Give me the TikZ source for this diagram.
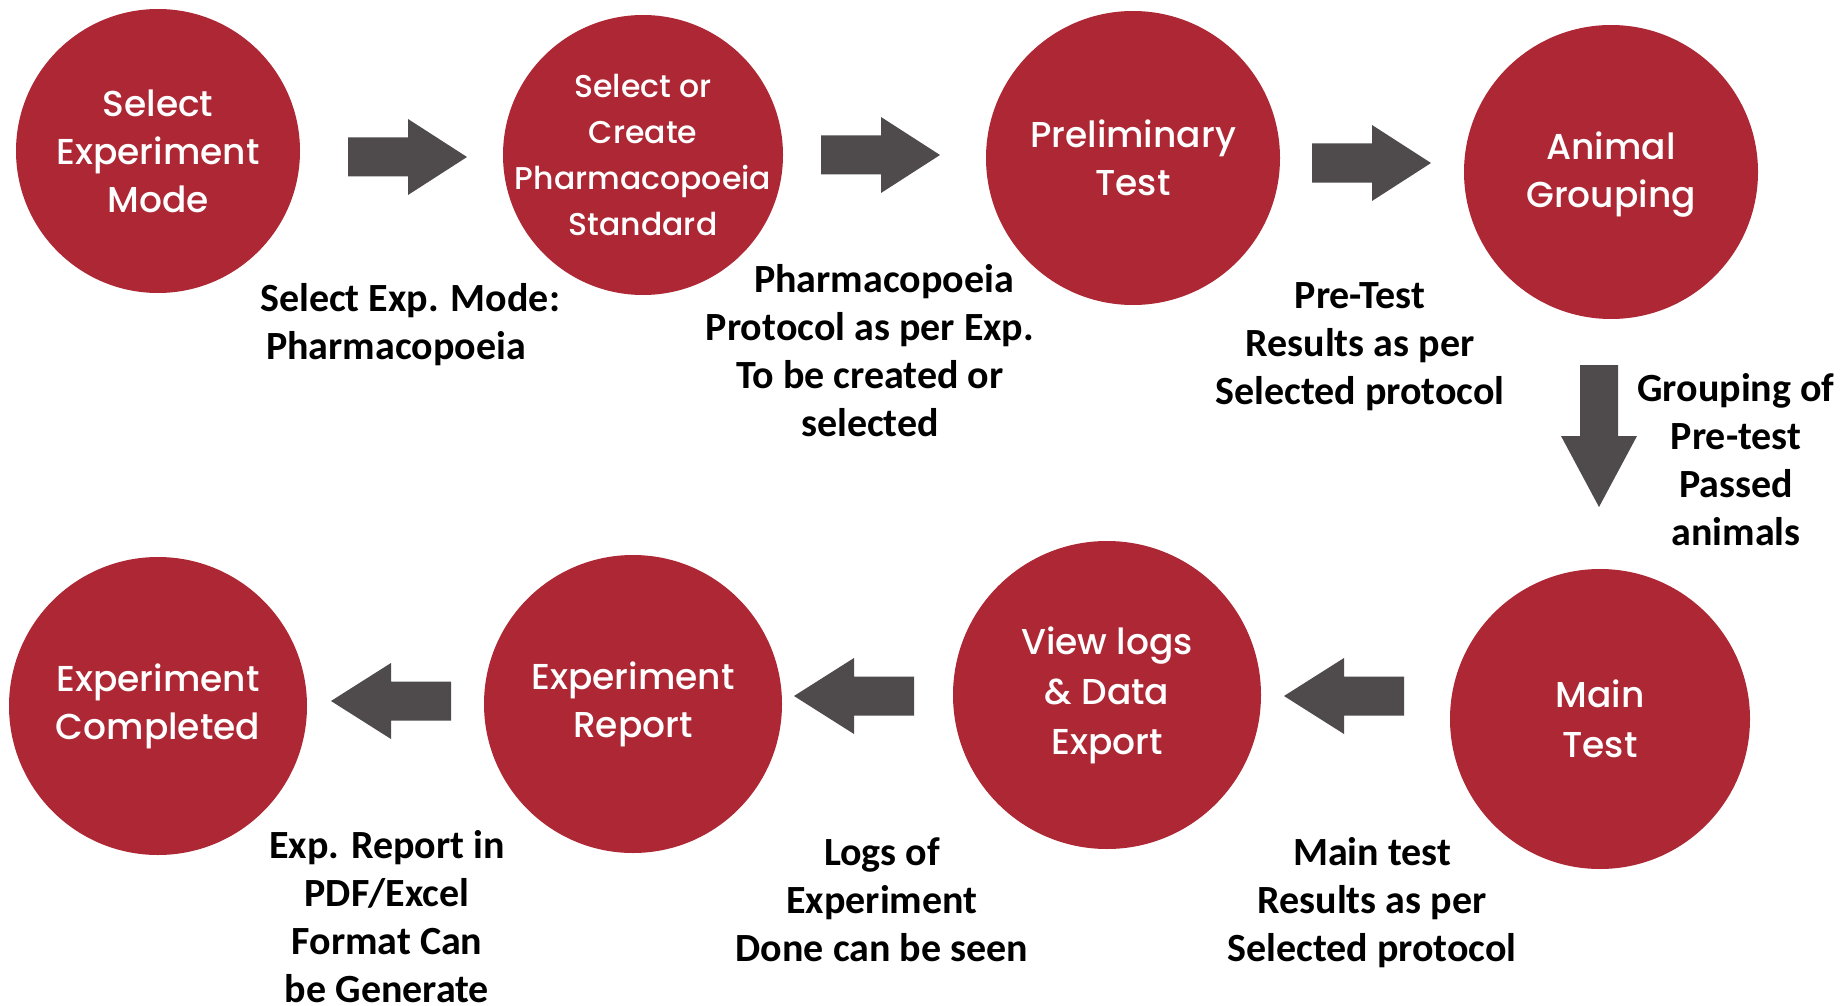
\documentclass[tikz,border=0pt]{standalone}
\usepackage{fontspec}
\setmainfont{Carlito}
\newfontfamily\circfont{Poppins}[UprightFont={* Medium}]
\definecolor{crimson}{RGB}{173,39,52}
\definecolor{arrowgray}{RGB}{79,75,76}
\tikzset{
  circ/.style={circle, fill=crimson, inner sep=0pt, minimum size=#1},
  ctext/.style={inner sep=0pt, text=white, align=center,
    font=\circfont\fontsize{36}{#1}\selectfont},
  ctext/.default=48,
  lbl/.style={inner sep=0pt, align=center, text=black,
    font=\bfseries\fontsize{40}{48}\selectfont},
  rightarrow/.pic={\fill[arrowgray] (-60,-19.5) -- (0,-19.5) -- (0,-38) -- (59,0) -- (0,38) -- (0,19.5) -- (-60,19.5) -- cycle;},
  leftarrow/.pic={\fill[arrowgray] (60,-19.5) -- (0,-19.5) -- (0,-38) -- (-60,0) -- (0,38) -- (0,19.5) -- (60,19.5) -- cycle;},
  downarrow/.pic={\fill[arrowgray] (-19,-71) -- (-19,0) -- (-38,0) -- (0,71) -- (38,0) -- (19,0) -- (19,-71) -- cycle;}
}
\begin{document}
\begin{tikzpicture}[x=1pt,y=-1pt]
\useasboundingbox[fill=white] (0,0) rectangle (1845,1006);
% circles
\node[circ=284] (c1) at (158,151) {};
\node[circ=280] (c2) at (643,155) {};
\node[circ=294] (c3) at (1133,158) {};
\node[circ=294] (c4) at (1611,172) {};
\node[circ=300] (c5) at (1600,719) {};
\node[circ=308] (c6) at (1107,695) {};
\node[circ=298] (c7) at (633,704) {};
\node[circ=298] (c8) at (158,706) {};
% circle texts
\node[ctext] (t1) at (c1) {Select\\Experiment\\Mode};
\node[ctext=46, font=\circfont\fontsize{31.5}{46}\selectfont] (t2) at (c2) {Select or\\Create\\Pharmacopoeia\\Standard};
\node[ctext] (t3) at (c3) {Preliminary\\Test};
\node[ctext] (t4) at ([yshift=-3pt]c4.center) {Animal\\Grouping};
\node[ctext=50] (t5) at (c5) {Main\\Test};
\node[ctext=50] (t6) at (c6) {View logs\\\& Data\\Export};
\node[ctext] (t7) at (c7) {Experiment\\Report};
\node[ctext] (t8) at (c8) {Experiment\\Completed};
% block arrows
\pic at (408,157) {rightarrow};
\pic at (881,155) {rightarrow};
\pic at (1372,163) {rightarrow};
\pic at (1599,436) {downarrow};
\pic at (1344,696) {leftarrow};
\pic at (854,696) {leftarrow};
\pic at (391,701) {leftarrow};
% labels
\node[lbl, align=left, anchor=north west] (l1) at (260,283) {Select Exp. Mode:\\\hspace*{6pt}Pharmacopoeia};
\node[lbl, anchor=north] (l2) at (870,264) {\hspace*{28pt}Pharmacopoeia\\Protocol as per Exp.\\To be created or\\selected};
\node[lbl, anchor=north] (l3) at (1360,282) {Pre-Test\\Results as per\\Selected protocol};
\node[lbl, anchor=north] (l4) at (1736,373) {Grouping of\\Pre-test\\Passed\\animals};
\node[lbl, anchor=north] (l5) at (1372,837) {Main test\\Results as per\\Selected protocol};
\node[lbl, anchor=north] (l6) at (882,837) {Logs of\\Experiment\\Done can be seen};
\node[lbl, anchor=north] (l7) at (387,830) {Exp. Report in\\PDF/Excel\\Format Can\\be Generate};
\end{tikzpicture}
\end{document}
